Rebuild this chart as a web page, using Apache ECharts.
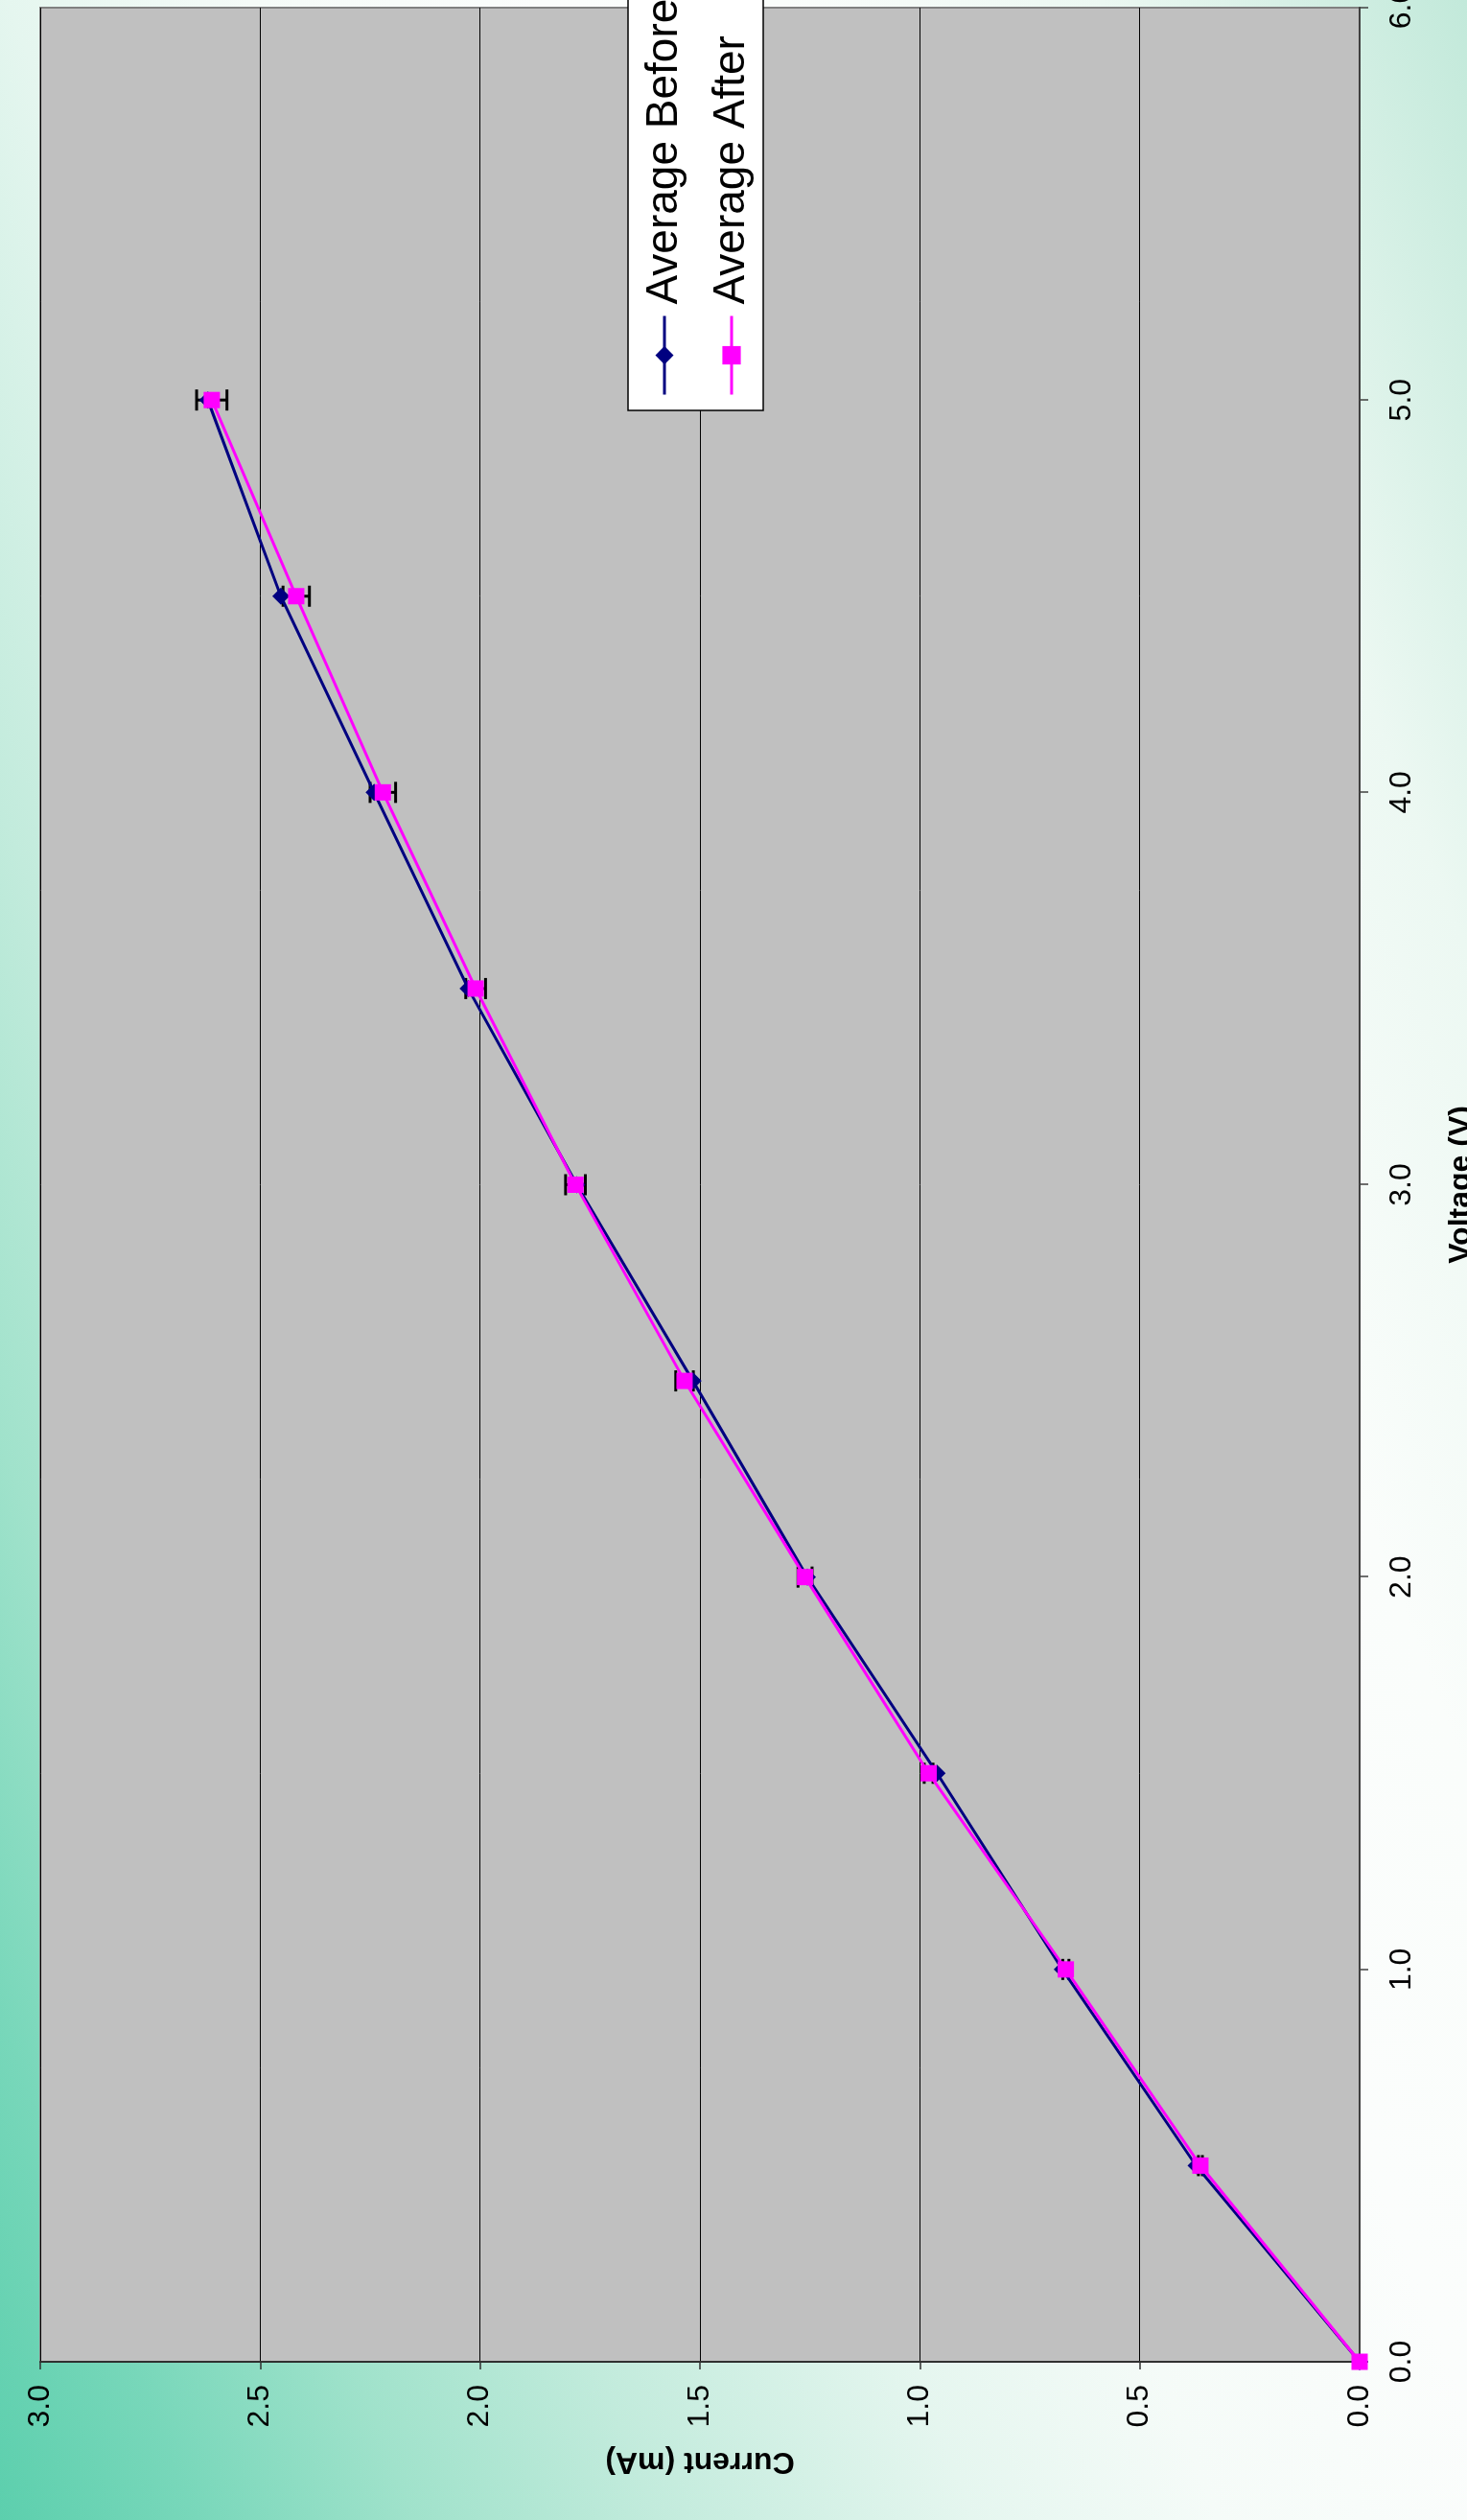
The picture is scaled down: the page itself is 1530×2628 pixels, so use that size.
<!DOCTYPE html>
<html><head><meta charset="utf-8">
<script src="https://cdn.jsdelivr.net/npm/echarts@6/dist/echarts.min.js"></script>
<style>
html,body{margin:0;padding:0;width:1530px;height:2628px;overflow:hidden;}
body{position:relative;background:linear-gradient(69deg,#5ccfad 0%,#78d7ba 8%,#a0e2cb 17%,#c2ebdc 27%,#e5f6ef 40%,#f5fbf8 50%,#fbfdfc 62%,#fafdfb 72%,#ecf8f2 85%,#c2e9da 100%);}
#chart{position:absolute;left:0;top:0;width:2800px;height:1600px;transform-origin:0 0;transform:translate(0px,2628px) rotate(-90deg);}
</style></head><body><div id="chart"></div>
<script>
// Voltage (V) and measured current (mA)
const voltage = [0, 0.5, 1.0, 1.5, 2.0, 2.5, 3.0, 3.5, 4.0, 4.5, 5.0];
const averageBefore = [0, 0.372, 0.676, 0.961, 1.256, 1.516, 1.780, 2.027, 2.241, 2.453, 2.619];
const averageAfter = [0, 0.362, 0.668, 0.980, 1.261, 1.535, 1.783, 2.010, 2.221, 2.418, 2.610];
const afterError = [0, 0.0045, 0.007, 0.010, 0.016, 0.020, 0.0225, 0.0225, 0.029, 0.030, 0.0345];
const seriesNames = ['Average Before', 'Average After'];
const xTitle = 'Voltage (V)';
const yTitle = 'Current (mA)';

const FONT = '"Liberation Sans", Arial, sans-serif';
const beforeData = voltage.map((v, i) => [v, averageBefore[i]]);
const afterData = voltage.map((v, i) => [v, averageAfter[i]]);
const errData = voltage.map((v, i) => [v, averageAfter[i] - afterError[i], averageAfter[i] + afterError[i]])
  .filter((d, i) => afterError[i] > 0);

const chart = echarts.init(document.getElementById('chart'), null, {renderer: 'canvas'});
chart.setOption({
  animation: false,
  backgroundColor: 'transparent',
  textStyle: {fontFamily: FONT},
  grid: {
    left: 165, top: 42, width: 2455, height: 1376,
    show: true, backgroundColor: '#c0c0c0', borderColor: '#808080', borderWidth: 2
  },
  legend: {
    orient: 'vertical', left: 2200, top: 655,
    padding: [13, 22, 8, 15],
    itemWidth: 82, itemHeight: 24, itemGap: 20,
    backgroundColor: '#ffffff', borderColor: '#000000', borderWidth: 1.5, borderRadius: 0,
    data: seriesNames,
    lineStyle: {width: 3},
    textStyle: {fontFamily: FONT, fontSize: 46, lineHeight: 50, color: '#000', padding: [0, 0, 0, 7]},
    z: 10
  },
  xAxis: {
    type: 'value', min: 0, max: 6, interval: 1,
    name: xTitle, nameLocation: 'middle', nameGap: 90,
    nameTextStyle: {fontFamily: FONT, fontSize: 32, fontWeight: 'bold', color: '#000'},
    axisLine: {show: true, onZero: false, lineStyle: {color: '#404040', width: 2}},
    axisTick: {show: true, inside: false, length: 9, lineStyle: {color: '#404040', width: 1.5}},
    axisLabel: {margin: 28, fontFamily: FONT, fontSize: 32, color: '#000', formatter: v => v.toFixed(1), showMinLabel: true, showMaxLabel: true},
    splitLine: {show: false}
  },
  yAxis: {
    type: 'value', min: 0, max: 3, interval: 0.5,
    name: yTitle, nameLocation: 'middle', nameGap: 88, nameRotate: 90,
    nameTextStyle: {fontFamily: FONT, fontSize: 32, fontWeight: 'bold', color: '#000'},
    axisLine: {show: true, onZero: false, lineStyle: {color: '#303030', width: 2}},
    axisTick: {show: true, inside: false, length: 8, lineStyle: {color: '#303030', width: 1.5}},
    axisLabel: {margin: 24, fontFamily: FONT, fontSize: 32, color: '#000', formatter: v => v.toFixed(1), showMinLabel: true, showMaxLabel: true},
    splitLine: {show: true, lineStyle: {color: '#000', width: 1}}
  },
  series: [
    {
      type: 'custom', name: 'errorbars', z: 1,
      data: errData,
      encode: {x: 0, y: [1, 2]},
      renderItem: function (params, api) {
        const x = api.value(0), lo = api.value(1), hi = api.value(2);
        const p1 = api.coord([x, lo]), p2 = api.coord([x, hi]);
        const cap = 11;
        const st = {stroke: '#000', lineWidth: 3};
        return {type: 'group', children: [
          {type: 'line', shape: {x1: p1[0], y1: p1[1], x2: p2[0], y2: p2[1]}, style: st},
          {type: 'line', shape: {x1: p1[0] - cap, y1: p1[1], x2: p1[0] + cap, y2: p1[1]}, style: st},
          {type: 'line', shape: {x1: p2[0] - cap, y1: p2[1], x2: p2[0] + cap, y2: p2[1]}, style: st}
        ]};
      }
    },
    {
      type: 'line', name: seriesNames[0], data: beforeData, z: 2,
      symbol: 'diamond', symbolSize: 18, showAllSymbol: true,
      lineStyle: {color: '#000080', width: 3},
      itemStyle: {color: '#000080'}
    },
    {
      type: 'line', name: seriesNames[1], data: afterData, z: 3,
      symbol: 'rect', symbolSize: 17, showAllSymbol: true,
      lineStyle: {color: '#ff00ff', width: 3},
      itemStyle: {color: '#ff00ff'}
    }
  ]
});
</script></body></html>
